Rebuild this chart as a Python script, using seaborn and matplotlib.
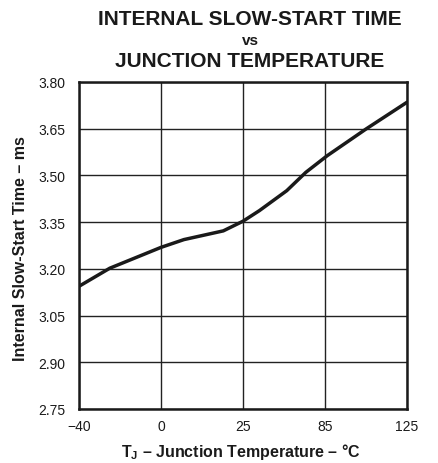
import numpy as np
import matplotlib
matplotlib.use("Agg")
import matplotlib.pyplot as plt
import seaborn as sns
import pandas as pd

# Data
temps = [-40, -25, 0, 7, 19, 25, 37, 57, 71, 86, 105, 125]
slow_start_ms = [3.144, 3.202, 3.269, 3.294, 3.322, 3.353, 3.387, 3.451, 3.510, 3.563, 3.649, 3.735]
x_ticks = [-40, 0, 25, 85, 125]
x_tick_labels = ["\u221240", "0", "25", "85", "125"]
y_ticks = [2.75, 2.90, 3.05, 3.20, 3.35, 3.50, 3.65, 3.80]

sns.set_theme(style="white")
plt.rcParams['font.family'] = ['Liberation Sans', 'DejaVu Sans']
plt.rcParams['mathtext.fontset'] = 'custom'
plt.rcParams['mathtext.bf'] = 'Liberation Sans:bold'
plt.rcParams['mathtext.rm'] = 'Liberation Sans'

df = pd.DataFrame({"T": temps, "t": slow_start_ms})

fig = plt.figure(figsize=(4.38, 4.64), dpi=100)
ax = fig.add_axes([79/438, 1-410/464, 328/438, 327/464])

# piecewise-linear axis: tick values evenly spaced
pos = np.arange(len(x_ticks), dtype=float)
fwd = lambda v: np.interp(v, x_ticks, pos)
inv = lambda p: np.interp(p, pos, x_ticks)
ax.set_xscale('function', functions=(fwd, inv))

sns.lineplot(data=df, x="T", y="t", ax=ax, color="#1a1a1a", linewidth=2.5, zorder=3)

ax.set_xlim(-40, 125)
ax.set_ylim(2.75, 3.80)
ax.set_xticks(x_ticks)
ax.set_xticklabels(x_tick_labels)
ax.set_yticks(y_ticks)
ax.set_yticklabels([f"{v:.2f}" for v in y_ticks])
ax.xaxis.set_minor_locator(matplotlib.ticker.NullLocator())
ax.grid(True, color="#222222", linewidth=1.0)
for s in ax.spines.values():
    s.set_color("#1a1a1a")
    s.set_linewidth(1.8)
ax.tick_params(axis='y', length=0, labelsize=10, colors="#1a1a1a", pad=10)
ax.tick_params(axis='x', length=0, labelsize=10, colors="#1a1a1a", pad=7)
ax.set_xlabel("")
ax.set_ylabel("")

fig.text(250/438, 1-19.5/464, "INTERNAL SLOW-START TIME", ha="center", va="center",
         fontsize=15, fontweight="bold", color="#1a1a1a")
fig.text(250/438, 1-41/464, "vs", ha="center", va="center",
         fontsize=11, fontweight="bold", color="#1a1a1a")
fig.text(250/438, 1-61.5/464, "JUNCTION TEMPERATURE", ha="center", va="center",
         fontsize=15, fontweight="bold", color="#1a1a1a")

fig.text(21/438, 1-249/464, "Internal Slow-Start Time \u2013 ms", rotation=90,
         ha="center", va="center", fontsize=11.5, fontweight="bold", color="#1a1a1a")
fig.text(241/438, 1-452/464, "T$_\\mathbf{J}$ \u2013 Junction Temperature \u2013 \u00b0C",
         ha="center", va="center", fontsize=11.5, fontweight="bold", color="#1a1a1a")

fig.savefig("out.png", dpi=100, facecolor="white")
